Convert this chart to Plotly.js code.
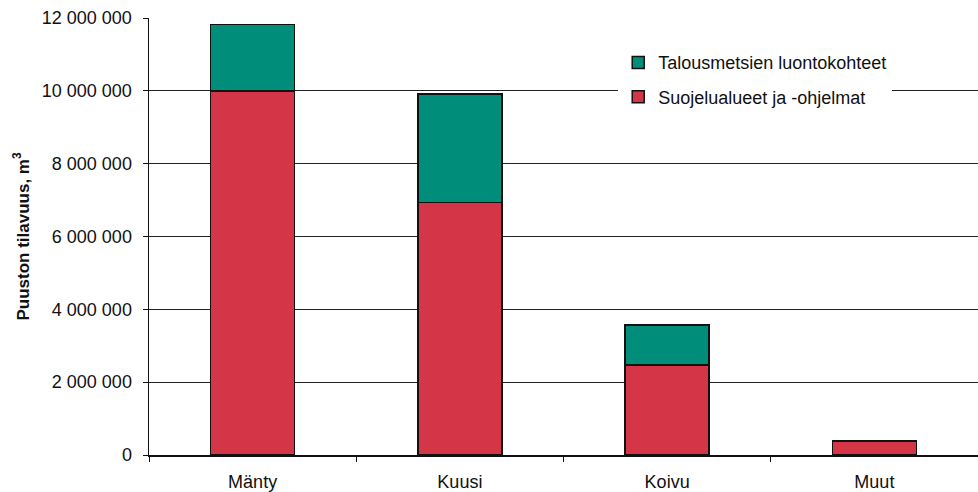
<!DOCTYPE html>
<html>
<head>
<meta charset="utf-8">
<script src="https://cdn.plot.ly/plotly-3.0.1.min.js"></script>
<style>body{margin:0;background:#fff}#chart{width:978px;height:492px}</style>
</head>
<body>
<div id="chart"></div>
<script>
const categories = ["Mänty", "Kuusi", "Koivu", "Muut"];
const suojelu = [10000000, 6930000, 2470000, 370000];
const talous = [1820000, 2990000, 1100000, 20000];
const seriesNames = ["Suojelualueet ja -ohjelmat", "Talousmetsien luontokohteet"];
const yTicks = [0, 2000000, 4000000, 6000000, 8000000, 10000000, 12000000];

const font = "Liberation Sans, Arial, sans-serif";
const traces = [
  {type: "bar", name: seriesNames[0], x: categories, y: suojelu, legendgroup: "a", legendrank: 2,
   marker: {color: "#D43648", line: {color: "#111", width: 1.5}}},
  {type: "bar", name: seriesNames[1], x: categories, y: talous, legendgroup: "b", legendrank: 1,
   marker: {color: "#008E7A", line: {color: "#111", width: 1.5}}}
];
const layout = {
  width: 978, height: 492,
  margin: {l: 149, r: 0, t: 18, b: 37},
  barmode: "stack", bargap: 0.595,
  separators: ". ",
  paper_bgcolor: "#fff", plot_bgcolor: "#fff",
  font: {family: font, size: 17, color: "#111"},
  xaxis: {showline: true, linecolor: "#111", linewidth: 1.5, ticks: "outside", tickson: "boundaries",
          ticklen: 5, tickcolor: "#111", showgrid: false, tickfont: {size: 18}, ticklabelstandoff: 10},
  yaxis: {range: [0, 12000000], tickvals: yTicks, tickformat: ",d", showline: true, linecolor: "#111",
          linewidth: 1.5, ticks: "outside", ticklen: 5, tickcolor: "#111", showgrid: true,
          gridcolor: "#222", gridwidth: 1, zeroline: false, tickfont: {size: 18}, ticklabelstandoff: 7,
          title: {text: "<b>Puuston tilavuus, m<sup>3</sup></b>", font: {size: 17}, standoff: 8}},
  legend: {x: 0.566, y: 0.94, xanchor: "left", yanchor: "top", bgcolor: "#fff",
           traceorder: "grouped", tracegroupgap: 8, font: {size: 18},
           itemwidth: 30},
  showlegend: true
};
Plotly.newPlot("chart", traces, layout, {displayModeBar: false, staticPlot: true});
</script>
</body>
</html>
